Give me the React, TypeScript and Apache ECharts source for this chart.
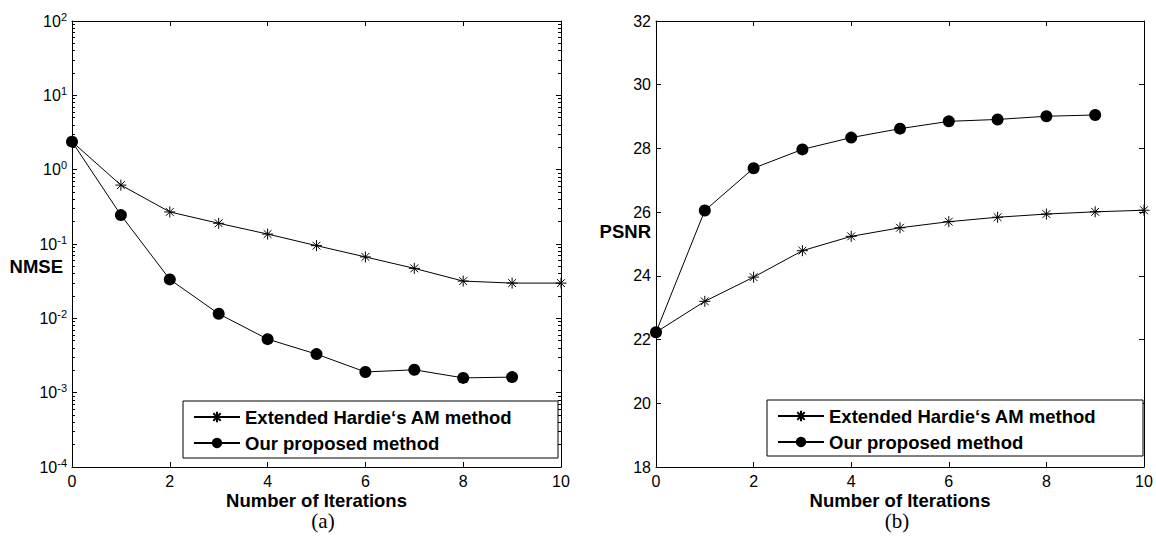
import React, { useEffect, useRef } from "react";
import * as echarts from "echarts";

const iterations = [0, 1, 2, 3, 4, 5, 6, 7, 8, 9, 10];
const nmseExtended = [2.38, 0.62, 0.27, 0.19, 0.136, 0.095, 0.067, 0.047, 0.0317, 0.0298, 0.0298];
const nmseProposed = [2.38, 0.245, 0.0334, 0.0115, 0.00525, 0.0033, 0.0019, 0.00203, 0.00158, 0.00162];
const psnrExtended = [22.23, 23.2, 23.96, 24.79, 25.24, 25.51, 25.7, 25.84, 25.94, 26.01, 26.06];
const psnrProposed = [22.23, 26.05, 27.38, 27.97, 28.34, 28.62, 28.85, 28.91, 29.01, 29.05];

const nameExtended = "Extended Hardie\u2018s AM method";
const nameProposed = "Our proposed method";
const xTitle = "Number of Iterations";
const yTitleA = "NMSE";
const yTitleB = "PSNR";

const SANS = "'Liberation Sans', Arial, Helvetica, sans-serif";
const SERIF = "'Liberation Serif', 'Times New Roman', serif";
const STAR = "path://M0 -5.5 L0 5.5 M-5.5 0 L5.5 0 M-3.9 -3.9 L3.9 3.9 M-3.9 3.9 L3.9 -3.9";

const pairs = (ys: number[]) => ys.map((y, i) => [iterations[i], y]);

export default function App() {
  const ref = useRef<HTMLDivElement>(null);
  useEffect(() => {
    if (!ref.current) return;
    const chart = echarts.init(ref.current, null, { renderer: "svg" });
    const axisLine = { show: true, onZero: false, lineStyle: { color: "#000", width: 1 } };
    const tickLabel = { color: "#000", fontSize: 16, fontFamily: SANS };
    const xAxisBase = (grid: number, pos: "bottom" | "top") => ({
      type: "value",
      gridIndex: grid,
      position: pos,
      min: 0,
      max: 10,
      interval: 2,
      axisLine,
      axisTick: { show: true, inside: true, length: 5, lineStyle: { color: "#000" } },
      axisLabel: pos === "bottom" ? { ...tickLabel, margin: 6 } : { show: false },
      splitLine: { show: false },
    });
    const logAxis = (pos: "left" | "right") => ({
      type: "log",
      logBase: 10,
      gridIndex: 0,
      position: pos,
      min: 1e-4,
      max: 100,
      axisLine,
      axisTick: { show: true, inside: true, length: 5, lineStyle: { color: "#000" } },
      minorTick: { show: true, splitNumber: 9, length: 3, lineStyle: { color: "#000" } },
      axisLabel:
        pos === "left"
          ? {
              margin: 5,
              formatter: (v: number) => `{b|10}{s|${Math.round(Math.log10(v))}}`,
              rich: {
                b: { fontSize: 16, fontFamily: SANS, color: "#000" },
                s: { fontSize: 11, fontFamily: SANS, color: "#000", padding: [0, 0, 9, 0] },
              },
            }
          : { show: false },
      splitLine: { show: false },
      minorSplitLine: { show: false },
    });
    const linAxis = (pos: "left" | "right") => ({
      type: "value",
      gridIndex: 1,
      position: pos,
      min: 18,
      max: 32,
      interval: 2,
      axisLine,
      axisTick: { show: true, inside: true, length: 5, lineStyle: { color: "#000" } },
      axisLabel: pos === "left" ? { ...tickLabel, margin: 5 } : { show: false },
      splitLine: { show: false },
    });
    const lineStyle = { color: "#000", width: 1 };
    const starSeries = (name: string, data: number[], xi: number, yi: number) => ({
      type: "line",
      name,
      xAxisIndex: xi,
      yAxisIndex: yi,
      data: pairs(data),
      symbol: STAR,
      symbolSize: 11,
      showSymbol: true,
      lineStyle,
      itemStyle: { color: "#000", borderColor: "#000", borderWidth: 1 },
      z: 3,
    });
    const dotSeries = (name: string, data: number[], xi: number, yi: number) => ({
      type: "line",
      name,
      xAxisIndex: xi,
      yAxisIndex: yi,
      data: pairs(data),
      symbol: "circle",
      symbolSize: 12,
      showSymbol: true,
      lineStyle,
      itemStyle: { color: "#000", borderColor: "#000", borderWidth: 0 },
      z: 3,
    });
    const legendCommon = {
      orient: "vertical",
      itemWidth: 46,
      itemHeight: 13,
      itemGap: 6,
      padding: 0,
      selectedMode: false,
      textStyle: { fontSize: 18.5, fontWeight: "bold", fontFamily: SANS, color: "#000", lineHeight: 20 },
      data: [nameExtended, nameProposed],
      z: 5,
    };
    const text = (t: string, x: number, y: number, align: string, font: any) => ({
      type: "text",
      x,
      y,
      style: { text: t, fill: "#000", align, verticalAlign: "middle", ...font },
    });
    const boldFont = { fontSize: 18.5, fontWeight: "bold", fontFamily: SANS, lineHeight: 16 };
    const serifFont = { fontSize: 21, fontFamily: SERIF, lineHeight: 20 };
    chart.setOption({
      animation: false,
      backgroundColor: "#fff",
      grid: [
        { left: 72, top: 21, width: 489, height: 446, containLabel: false },
        { left: 656, top: 21, width: 488, height: 446, containLabel: false },
      ],
      xAxis: [xAxisBase(0, "bottom"), xAxisBase(0, "top"), xAxisBase(1, "bottom"), xAxisBase(1, "top")],
      yAxis: [logAxis("left"), logAxis("right"), linAxis("left"), linAxis("right")],
      series: [
        starSeries(nameExtended, nmseExtended, 0, 0),
        dotSeries(nameProposed, nmseProposed, 0, 0),
        starSeries(nameExtended, psnrExtended, 2, 2),
        dotSeries(nameProposed, psnrProposed, 2, 2),
      ],
      legend: [
        { ...legendCommon, left: 193, top: 407 },
        { ...legendCommon, left: 777, top: 406 },
      ],
      graphic: [
        { type: "rect", shape: { x: 183, y: 401, width: 375, height: 57 }, style: { fill: "#fff", stroke: "#000", lineWidth: 1 }, z: 4 },
        { type: "rect", shape: { x: 767, y: 400, width: 376, height: 56 }, style: { fill: "#fff", stroke: "#000", lineWidth: 1 }, z: 4 },
        text(yTitleA, 63, 266, "right", boldFont),
        text(yTitleB, 651, 231, "right", boldFont),
        text(xTitle, 316.5, 500, "center", boldFont),
        text(xTitle, 900, 500, "center", boldFont),
        text("(a)", 323, 521, "center", serifFont),
        text("(b)", 897, 521, "center", serifFont),
      ],
    });
    return () => chart.dispose();
  }, []);
  return <div ref={ref} style={{ position: "absolute", left: 0, top: 0, width: 1156, height: 538 }} />;
}
